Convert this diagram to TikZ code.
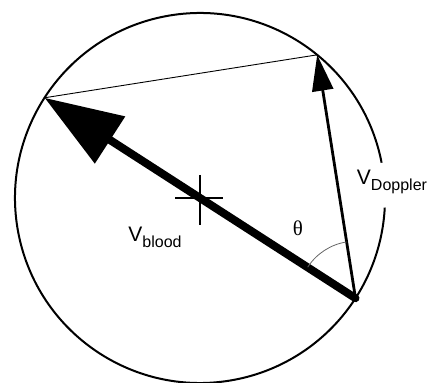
\documentclass[tikz,border=0pt]{standalone}
\usepackage{fontspec}
\setmainfont{Liberation Sans}
\newfontfamily\greekfont{Liberation Serif}
\usetikzlibrary{arrows.meta,calc}
\tikzset{
  vlabel/.style={font=\fontsize{21}{24}\selectfont, inner sep=0pt},
  sublabel/.style={font=\fontsize{16}{18}\selectfont}
}
\begin{document}
\begin{tikzpicture}[x=1pt,y=1pt]
        \useasboundingbox (0,0) rectangle (430,382);
        \coordinate (C) at (200,184);
        \coordinate (A) at ($(C)+(147.2:185)$);
        \coordinate (B) at ($(C)+(-32.8:185)$);
        \coordinate (D) at ($(C)+(50.7:185)$);
        % circle with gap for the label
        \draw[line width=2pt] ($(C)+(11:185)$) arc (11:357:185);
        % cross at the centre
        \draw[line width=1.3pt] ($(C)+(-25,0)$) -- ($(C)+(23,0)$);
        \draw[line width=1.3pt] ($(C)+(0,23)$) -- ($(C)+(0,-27)$);
        \draw[line width=0.9pt] (A) -- (D);
        \draw[line width=8pt, line cap=round, -{Triangle[length=78pt,width=54pt]}] (B) -- (A);
        \draw[line width=2.8pt, -{Triangle[length=36pt,width=21pt]}] (B) -- (D);
        \draw[gray!80!black, line width=0.8pt] ($(B)+(99:57)$) arc (99:147:57);
        \node[vlabel] (theta) at (298,154) {\greekfont θ};
        \node[vlabel] (vblood) at (155,145) {V\raisebox{-6pt}{\fontsize{16}{18}\selectfont blood}};
        \node[vlabel] (vdoppler) at (392,200) {V\raisebox{-6pt}{\fontsize{16}{18}\selectfont Doppler}};
    \end{tikzpicture}
\end{document}
